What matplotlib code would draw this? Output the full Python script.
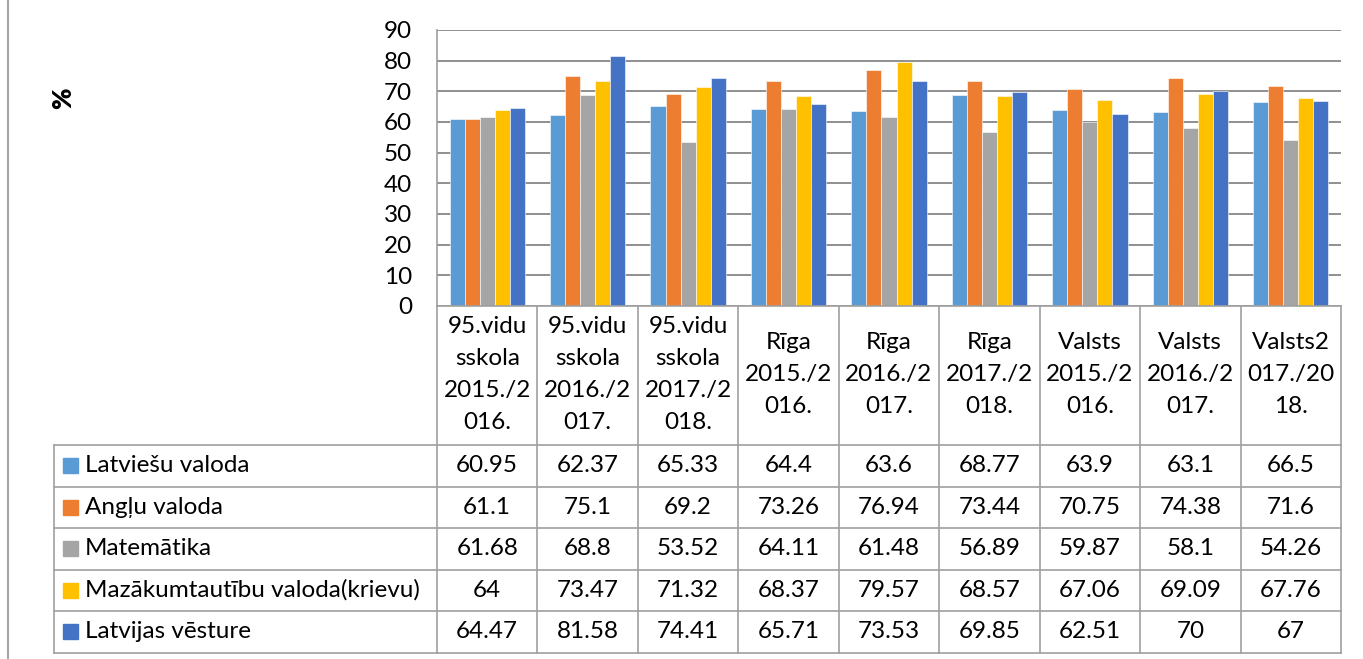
import matplotlib
matplotlib.use("Agg")
import matplotlib.pyplot as plt
import numpy as np

categories = ["95.vidu\nsskola\n2015./2\n016.", "95.vidu\nsskola\n2016./2\n017.", "95.vidu\nsskola\n2017./2\n018.",
              "Rīga\n2015./2\n016.", "Rīga\n2016./2\n017.", "Rīga\n2017./2\n018.",
              "Valsts\n2015./2\n016.", "Valsts\n2016./2\n017.", "Valsts2\n017./20\n18."]
series_names = ["Latviešu valoda", "Angļu valoda", "Matemātika",
                "Mazākumtautību valoda(krievu)", "Latvijas vēsture"]
latviesu = [60.95, 62.37, 65.33, 64.4, 63.6, 68.77, 63.9, 63.1, 66.5]
anglu = [61.1, 75.1, 69.2, 73.26, 76.94, 73.44, 70.75, 74.38, 71.6]
matematika = [61.68, 68.8, 53.52, 64.11, 61.48, 56.89, 59.87, 58.1, 54.26]
mazakumtautibu = [64, 73.47, 71.32, 68.37, 79.57, 68.57, 67.06, 69.09, 67.76]
vesture = [64.47, 81.58, 74.41, 65.71, 73.53, 69.85, 62.51, 70, 67]
value_labels = [
    ["60.95", "62.37", "65.33", "64.4", "63.6", "68.77", "63.9", "63.1", "66.5"],
    ["61.1", "75.1", "69.2", "73.26", "76.94", "73.44", "70.75", "74.38", "71.6"],
    ["61.68", "68.8", "53.52", "64.11", "61.48", "56.89", "59.87", "58.1", "54.26"],
    ["64", "73.47", "71.32", "68.37", "79.57", "68.57", "67.06", "69.09", "67.76"],
    ["64.47", "81.58", "74.41", "65.71", "73.53", "69.85", "62.51", "70", "67"],
]
yticks = [0, 10, 20, 30, 40, 50, 60, 70, 80, 90]
colors = ["#5B9BD5", "#ED7D31", "#A5A5A5", "#FFC000", "#4472C4"]

plt.rcParams['font.family'] = ['Lato', 'DejaVu Sans']
FS = 17.5
W, H = 1363, 659
fig = plt.figure(figsize=(W / 100, H / 100), dpi=100)

# pixel layout
L, R, T, B = 437, 1341, 30, 306
ax = fig.add_axes([L / W, 1 - B / H, (R - L) / W, (B - T) / H])
series = [latviesu, anglu, matematika, mazakumtautibu, vesture]
n = len(categories)
x = np.arange(n)
bw = 0.15
for i, (vals, c) in enumerate(zip(series, colors)):
    ax.bar(x + (i - 2) * bw, vals, width=bw, color=c, edgecolor="white", linewidth=0.4, zorder=3)
ax.set_xlim(-0.5, n - 0.5)
ax.set_ylim(0, 90)
ax.set_yticks(yticks)
ax.set_yticklabels([str(v) for v in yticks], fontsize=FS)
ax.tick_params(axis="y", length=0, pad=18)
ax.set_xticks([])
ax.grid(axis="y", color="#878787", linewidth=1.3, zorder=0)
for s in ["top", "right", "bottom"]:
    ax.spines[s].set_visible(False)
ax.spines["left"].set_color("#9E9E9E")
ax.spines["left"].set_linewidth(1.2)

# overlay for table, in pixel coordinates
ov = fig.add_axes([0, 0, 1, 1])
ov.set_xlim(0, W)
ov.set_ylim(H, 0)
ov.axis("off")
lc = "#A0A0A0"
lw = 1.2
cw = (R - L) / n
rows_top = 445
rh = 41.5
tbl_bottom = rows_top + rh * 5
leg_left = 54

# header cells
ov.plot([L, R], [B, B], color=lc, lw=lw)
for k in range(n + 1):
    xx = L + k * cw
    ov.plot([xx, xx], [B, tbl_bottom], color=lc, lw=lw)
for k, cat in enumerate(categories):
    ov.text(L + (k + 0.5) * cw, (B + rows_top) / 2 - 1, cat, ha="center", va="center",
            fontsize=FS, linespacing=1.66)
# row lines
for r in range(6):
    yy = rows_top + r * rh
    ov.plot([leg_left, R], [yy, yy], color=lc, lw=lw)
ov.plot([leg_left, leg_left], [rows_top, tbl_bottom], color=lc, lw=lw)
for r, (name, c) in enumerate(zip(series_names, colors)):
    yc = rows_top + (r + 0.5) * rh
    ov.add_patch(plt.Rectangle((63, yc - 7.5), 15, 15, color=c))
    ov.text(85, yc, name, ha="left", va="center", fontsize=FS)
    for k in range(n):
        ov.text(L + (k + 0.5) * cw, yc, value_labels[r][k], ha="center", va="center", fontsize=FS)

# chart border at left
ov.plot([8, 8], [0, H], color="#A6A6A6", lw=1.5)
ov.text(63, 98, "%", rotation=90, ha="center", va="center", fontsize=18.5, fontweight="heavy")

fig.savefig("out.png", dpi=100)
